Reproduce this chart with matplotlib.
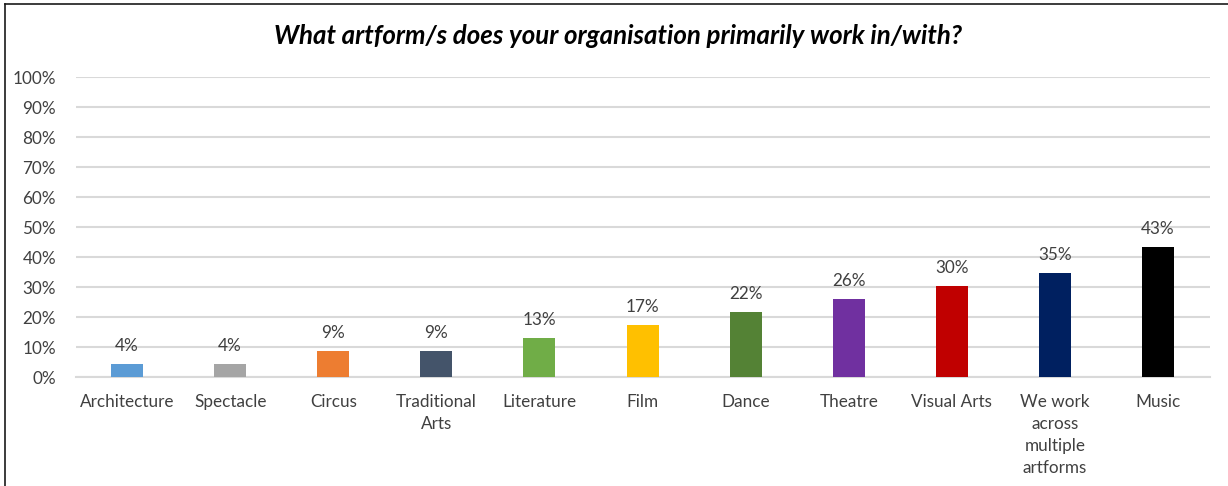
import matplotlib.pyplot as plt
from matplotlib.lines import Line2D

# Survey results: share of organisations per artform
artforms = ['Architecture', 'Spectacle', 'Circus', 'Traditional\nArts', 'Literature',
            'Film', 'Dance', 'Theatre', 'Visual Arts',
            'We work\nacross\nmultiple\nartforms', 'Music']
shares = [4.35, 4.35, 8.70, 8.70, 13.04, 17.39, 21.74, 26.09, 30.43, 34.78, 43.48]
colors = ['#5B9BD5', '#A5A5A5', '#ED7D31', '#44546A', '#70AD47', '#FFC000',
          '#548235', '#7030A0', '#C00000', '#002060', '#000000']
yticks = list(range(0, 101, 10))

plt.rcParams['font.family'] = ['Lato', 'DejaVu Sans']

W, H = 1228, 486
fig = plt.figure(figsize=(W / 100, H / 100), dpi=100)
ax = fig.add_axes([75.5 / W, (H - 377) / H, (1209.6 - 75.5) / W, 300 / H])

x = range(len(artforms))
ax.bar(x, shares, width=0.31, color=colors, zorder=3)

# value labels above each bar
for xi, v in zip(x, shares):
    ax.text(xi, v + 3.2, f'{v:.0f}%', ha='center', va='bottom',
            fontsize=12.3, color='#404040')

ax.set_xlim(-0.5, len(artforms) - 0.5)
ax.set_ylim(0, 100)
ax.set_yticks(yticks)
ax.set_yticklabels([f'{t}%' for t in yticks], fontsize=12.3, color='#404040')
ax.set_xticks(list(x))
ax.set_xticklabels(artforms, fontsize=12.3, color='#404040', linespacing=1.45, va='top')
ax.tick_params(axis='both', length=0)
ax.tick_params(axis='y', pad=14)
ax.tick_params(axis='x', pad=12.5)
ax.grid(axis='y', color='#D9D9D9', linewidth=1.5, zorder=0)
for side in ['top', 'right', 'left']:
    ax.spines[side].set_visible(False)
ax.spines['bottom'].set_color('#D9D9D9')
ax.spines['bottom'].set_linewidth(1.5)

fig.text(618 / W, 1 - 36 / H, 'What artform/s does your organisation primarily work in/with?',
         ha='center', va='center', fontsize=18.6, fontweight='bold', fontstyle='italic',
         color='black')

# chart frame (top and left edges)
fig.add_artist(Line2D([4.5 / W, 1], [1 - 4.5 / H, 1 - 4.5 / H], color='#1a1a1a', linewidth=1.2))
fig.add_artist(Line2D([4.5 / W, 4.5 / W], [0, 1 - 4.5 / H], color='#1a1a1a', linewidth=1.2))

fig.savefig('out.png', dpi=100)
